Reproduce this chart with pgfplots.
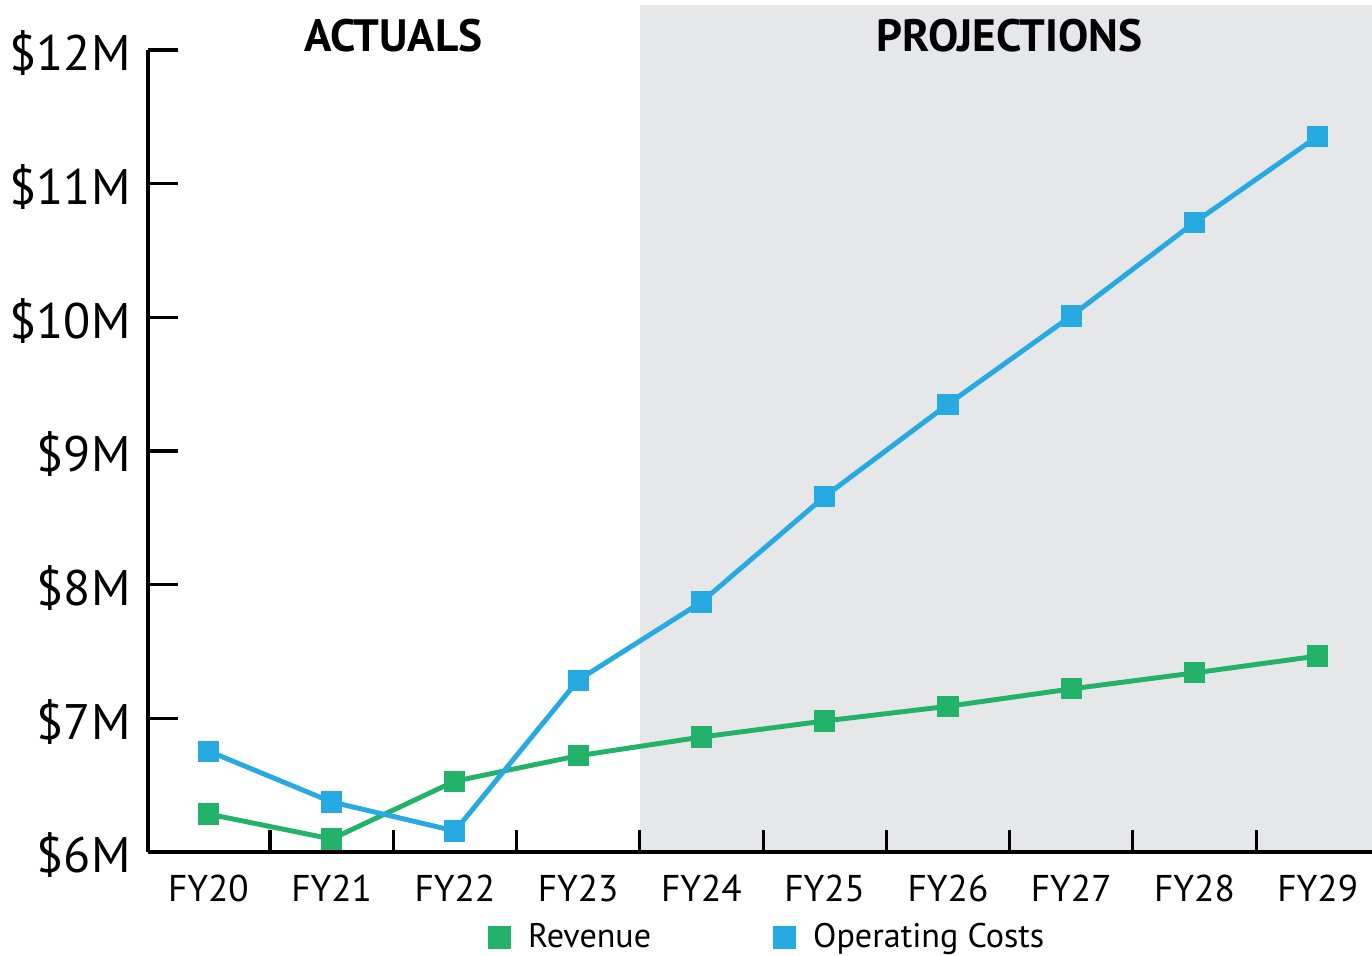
\documentclass[border=0pt]{standalone}
\usepackage{fontspec}
\setmainfont{PT Sans}
\usepackage{pgfplots}
\pgfplotsset{compat=1.18}
\definecolor{revgreen}{HTML}{22B26A}
\definecolor{costblue}{HTML}{27A9E1}
\definecolor{projgray}{HTML}{E6E7E8}
\begin{document}
\begin{tikzpicture}
\begin{axis}[name=ax, set layers, scale only axis,
  width=12.24cm, height=8.02cm,
  xmin=-0.49, xmax=9.44, ymin=6, ymax=12,
  clip=false,
  axis x line*=bottom, axis y line*=left,
  axis line style={line width=0.9pt, -},
  xtick={0,...,9},
  xticklabels={FY20,FY21,FY22,FY23,FY24,FY25,FY26,FY27,FY28,FY29},
  minor x tick num=1,
  major x tick style={draw=none},
  minor x tick style={line width=0.9pt, black},
  ytick={6,...,12},
  yticklabels={\$6M,\$7M,\$8M,\$9M,\$10M,\$11M,\$12M},
  ytick style={line width=0.9pt, black},
  tick align=inside, major tick length=0.3cm, minor tick length=0.22cm,
  x tick label style={font=\fontsize{10.6}{12}\selectfont, yshift=-0.11cm},
  y tick label style={font=\fontsize{14.2}{16}\selectfont, xshift=-0.05cm, yshift=-0.035cm},
  legend columns=2,
  legend style={draw=none, fill=none, at={(0.508,-0.107)}, anchor=center,
    font=\fontsize{9.7}{12}\selectfont,
    /tikz/every odd column/.append style={column sep=0.1cm},
    /tikz/every even column/.append style={column sep=1.15cm}},
  legend image code/.code={\fill[#1,draw=none] (0cm,-0.115cm) rectangle (0.23cm,0.115cm);},
]
\begin{pgfonlayer}{axis background}
\fill[projgray] (axis cs:3.5,6) rectangle (axis cs:9.44,12.335);
\end{pgfonlayer}
\addplot[revgreen, line width=1.4pt, mark=square*, mark size=2.3pt, mark options={solid}]
  coordinates {(0,6.284) (1,6.097) (2,6.53) (3,6.72) (4,6.86) (5,6.98) (6,7.09) (7,7.22) (8,7.34) (9,7.466)};
\addlegendentry{Revenue}
\addplot[costblue, line width=1.4pt, mark=square*, mark size=2.3pt, mark options={solid}]
  coordinates {(0,6.755) (1,6.374) (2,6.157) (3,7.286) (4,7.87) (5,8.66) (6,9.35) (7,10.01) (8,10.71) (9,11.355)};
\addlegendentry{Operating Costs}
\node[font=\bfseries\fontsize{12.9}{15}\selectfont] at (axis cs:1.5,12.11) {ACTUALS};
\node[font=\bfseries\fontsize{12.9}{15}\selectfont] at (axis cs:6.5,12.11) {PROJECTIONS};
\end{axis}
\pgfresetboundingbox
\path[use as bounding box] ([xshift=-1.48cm,yshift=-1.04cm]ax.south west) rectangle ([yshift=0.5cm]ax.north east);
\end{tikzpicture}
\end{document}
